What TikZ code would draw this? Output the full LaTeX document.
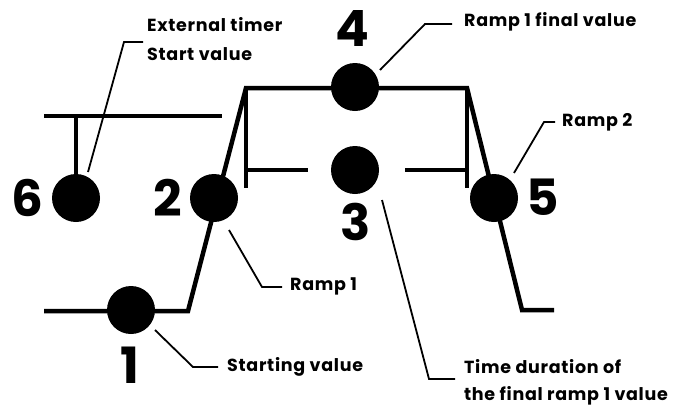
\documentclass[tikz,border=0pt]{standalone}
\usepackage{fontspec}
\setmainfont{Poppins}
\newfontfamily\lblfont{Poppins}[LetterSpace=4]
\begin{document}
\begin{tikzpicture}[x=1pt,y=-1pt,
  dot/.style={circle,fill=black,draw=none,minimum size=48pt,inner sep=0pt},
  wave/.style={line width=4.5pt,line cap=butt,line join=miter},
  leader/.style={line width=1.8pt},
  digit/.style={font=\fontsize{50}{50}\selectfont\bfseries,inner sep=0pt},
  lbl/.style={font=\lblfont\fontsize{17.5}{18}\selectfont\bfseries,anchor=west,inner sep=0pt}]
\useasboundingbox (0,0) rectangle (684,407);
% waveform corner points
\coordinate (a0) at (44,311);
\coordinate (a1) at (188,311);
\coordinate (a2) at (246,88);
\coordinate (a3) at (467,88);
\coordinate (a4) at (522,310);
\coordinate (a5) at (554,310);
\coordinate (t0) at (44,116);
\coordinate (t1) at (222,116);
\coordinate (t2) at (76,116);
\coordinate (v1) at (246,188);
\coordinate (v2) at (467,188);
\coordinate (h1) at (246,170);
\coordinate (h2) at (308,170);
\coordinate (h3) at (405,170);
\coordinate (h4) at (467,170);
% dots
\node[dot] (c1) at (131,310) {};
\node[dot] (c2) at (214,198) {};
\node[dot] (c3) at (355,170) {};
\node[dot] (c4) at (355,87) {};
\node[dot] (c5) at (494,198) {};
\node[dot] (c6) at (76,198) {};
% waveform
\draw[wave] (a0) -- (a1) -- (a2) -- (a3) -- (a4) -- (a5);
\draw[wave] (t0) -- (t1);
\draw[wave] (t2) -- (c6.center);
\draw[wave] (a2) -- (v1);
\draw[wave] (a3) -- (v2);
\draw[wave] (h1) -- (h2);
\draw[wave] (h3) -- (h4);
% digits
\node[digit] (n6) at (27,198) {6};
\node[digit] (n2) at (168,198) {2};
\node[digit] (n4) at (352,28) {4};
\node[digit] (n3) at (356,222) {3};
\node[digit] (n5) at (543,197) {5};
\node[digit] (n1) at (130,365) {1};
% labels
\node[lbl] (l6a) at (147,25) {External timer};
\node[lbl] (l6b) at (147,54) {Start value};
\node[lbl] (l4) at (464,22) {Ramp 1 final value};
\node[lbl] (l5) at (562,122) {Ramp 2};
\node[lbl] (l2) at (290,286) {Ramp 1};
\node[lbl] (l1) at (227,367) {Starting value};
\node[lbl] (l3a) at (464,367) {Time duration of};
\node[lbl] (l3b) at (464,396) {the final ramp 1 value};
% leader points
\coordinate (p6a) at (88,172);
\coordinate (p6b) at (124,42);
\coordinate (p6c) at (143,42);
\coordinate (p4a) at (380,70);
\coordinate (p4b) at (425,24);
\coordinate (p4c) at (452,24);
\coordinate (p5a) at (514,173);
\coordinate (p5b) at (544,122);
\coordinate (p5c) at (555,122);
\coordinate (p2a) at (229,230);
\coordinate (p2b) at (262,287);
\coordinate (p2c) at (282,287);
\coordinate (p1a) at (155,330);
\coordinate (p1b) at (193,367);
\coordinate (p1c) at (218,367);
\coordinate (p3a) at (382,200);
\coordinate (p3b) at (429,379);
\coordinate (p3c) at (455,379);
\draw[leader] (p6a) -- (p6b) -- (p6c);
\draw[leader] (p4a) -- (p4b) -- (p4c);
\draw[leader] (p5a) -- (p5b) -- (p5c);
\draw[leader] (p2a) -- (p2b) -- (p2c);
\draw[leader] (p1a) -- (p1b) -- (p1c);
\draw[leader] (p3a) -- (p3b) -- (p3c);
\end{tikzpicture}
\end{document}
